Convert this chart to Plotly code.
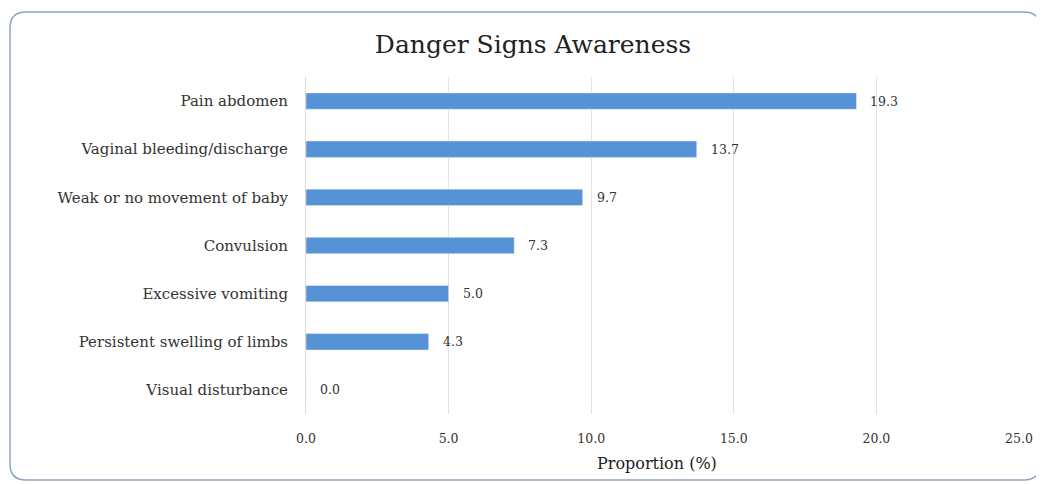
import plotly.graph_objects as go

categories = ["Pain abdomen", "Vaginal bleeding/discharge", "Weak or no movement of baby",
              "Convulsion", "Excessive vomiting", "Persistent swelling of limbs", "Visual disturbance"]
values = [19.3, 13.7, 9.7, 7.3, 5.0, 4.3, 0.0]
x_ticks = [0, 5, 10, 15, 20, 25]
x_tick_labels = ["0.0", "5.0", "10.0", "15.0", "20.0", "25.0"]

# page body has an 8px default offset; compensate
OFF = 8
W, H = 1044 - OFF, 484 - OFF
FONT = "DejaVu Serif, Liberation Serif, serif"

fig = go.Figure(go.Bar(
    y=categories, x=values, orientation="h",
    marker=dict(color="#5592D6"), width=0.34,
))

for c, v in zip(categories, values):
    fig.add_annotation(x=v, y=c, text=f"{v:.1f}", showarrow=False,
                       xanchor="left", xshift=12, font=dict(family=FONT, size=12.5, color="#333333"))

# plot area in page coords: x 306..1019, y 77..414
ml, mr, mt, mb = 306 - OFF, 1044 - 1019, 77 - OFF, 484 - 414
pw, ph = W - ml - mr, H - mt - mb
def px(x):
    return (x - OFF - ml) / pw
def py(y):
    return (H - mb - (y - OFF)) / ph
x0, x1, y0, y1, r = 10, 1040, 12, 480, 16
path = (f"M {px(x0+r)},{py(y0)} L {px(x1-r)},{py(y0)} Q {px(x1)},{py(y0)} {px(x1)},{py(y0+r)} "
        f"L {px(x1)},{py(y1-r)} Q {px(x1)},{py(y1)} {px(x1-r)},{py(y1)} "
        f"L {px(x0+r)},{py(y1)} Q {px(x0)},{py(y1)} {px(x0)},{py(y1-r)} "
        f"L {px(x0)},{py(y0+r)} Q {px(x0)},{py(y0)} {px(x0+r)},{py(y0)} Z")
fig.add_shape(type="path", path=path, xref="paper", yref="paper",
              line=dict(color="#8EA4BF", width=1.5), fillcolor="rgba(0,0,0,0)", layer="below")

# x-axis title as annotation
fig.add_annotation(text="Proportion (%)", xref="paper", yref="paper", x=px(657), y=py(463),
                   xanchor="center", yanchor="middle", showarrow=False,
                   font=dict(family=FONT, size=16, color="#222222"))

fig.update_layout(
    width=W, height=H,
    margin=dict(l=ml, r=mr, t=mt, b=mb, autoexpand=False),
    paper_bgcolor="white", plot_bgcolor="white",
    title=dict(text="Danger Signs Awareness", x=(533 - OFF) / W, xref="container", xanchor="center",
               y=1 - (44 - OFF) / H, yanchor="middle", font=dict(family=FONT, size=25, color="#222222")),
    font=dict(family=FONT, size=13, color="#333333"),
    showlegend=False,
    xaxis=dict(range=[0, 25], tickvals=x_ticks, ticktext=x_tick_labels, automargin=False,
               showgrid=True, gridcolor="#E3E3E3", gridwidth=1, zeroline=False,
               showline=False, ticks="outside", ticklen=13, tickcolor="rgba(0,0,0,0)",
               tickfont=dict(family=FONT, size=12.5, color="#333333")),
    yaxis=dict(categoryorder="array", categoryarray=categories[::-1], autorange=True, automargin=False,
               showgrid=False, showline=True, linecolor="#D9D9D9", linewidth=1,
               ticks="outside", ticklen=14, tickcolor="rgba(0,0,0,0)",
               tickfont=dict(family=FONT, size=15, color="#333333")),
)

fig.write_html("out.html")
